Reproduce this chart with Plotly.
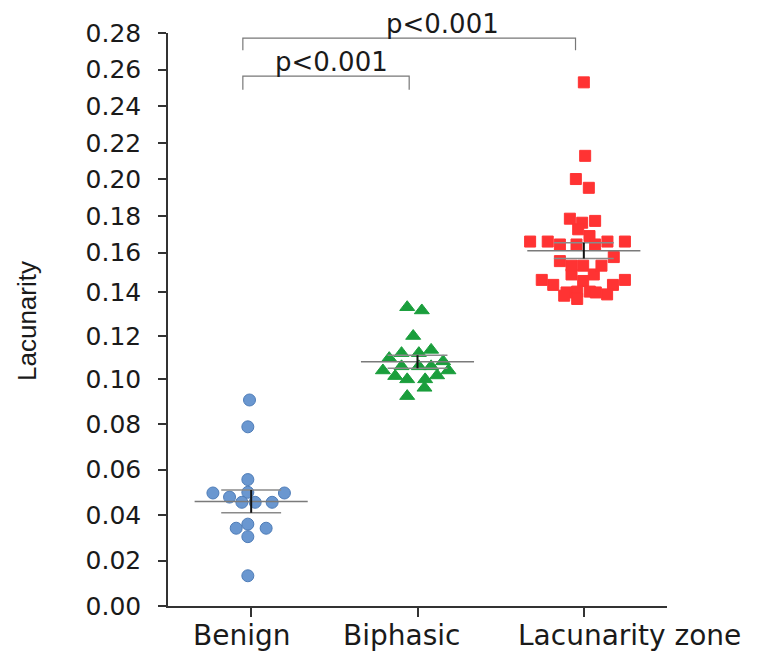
import plotly.graph_objects as go

# ---------------- data ----------------
categories = ["Benign", "Biphasic", "Lacunarity zone"]

benign_values = [0.0906, 0.0788, 0.0556, 0.0497, 0.0500, 0.0497, 0.0479, 0.0456,
                 0.0456, 0.0456, 0.0360, 0.0342, 0.0342, 0.0305, 0.0133]
benign_jitter = [-0.01, -0.02, -0.02, -0.23, -0.02, 0.20, -0.13, -0.056,
                 0.024, 0.126, -0.02, -0.09, 0.09, -0.02, -0.02]

biphasic_values = [0.1332, 0.1317, 0.1199, 0.1135, 0.1097, 0.1120, 0.1120, 0.1082,
                   0.1040, 0.1059, 0.1059, 0.1059, 0.1040, 0.1014, 0.1017, 0.0999,
                   0.0999, 0.0960, 0.0923]
biphasic_jitter = [-0.062, 0.026, -0.026, 0.082, -0.17, -0.096, 0.008, 0.154,
                   -0.208, -0.096, 0.008, 0.082, 0.186, -0.134, 0.118, -0.062,
                   0.046, 0.042, -0.062]

lacunarity_values = [0.2531, 0.2129, 0.2002, 0.1954, 0.1785, 0.1763, 0.1773, 0.1727,
                     0.1690, 0.1660, 0.1660, 0.1644, 0.1644, 0.1644, 0.1660, 0.1660,
                     0.1575, 0.1553, 0.1528, 0.1528, 0.1528, 0.1483, 0.1483, 0.1458,
                     0.1435, 0.1453, 0.1435, 0.1458, 0.1400, 0.1404, 0.1404, 0.1400,
                     0.1391, 0.1370, 0.1385]
lacunarity_jitter = [0.0, 0.008, -0.048, 0.03, -0.084, -0.01, 0.068, -0.034,
                     0.034, -0.323, -0.217, -0.144, -0.044, 0.068, 0.142, 0.247,
                     0.18, -0.144, -0.074, -0.004, 0.106, -0.074, 0.06, -0.253,
                     -0.184, -0.004, 0.175, 0.247, -0.104, -0.04, 0.036, 0.072,
                     0.14, -0.04, -0.118]

group_means = [0.046, 0.108, 0.161]
group_sems = [0.005, 0.003, 0.0043]

y_tick_values = [0.00, 0.02, 0.04, 0.06, 0.08, 0.10, 0.12, 0.14,
                 0.16, 0.18, 0.20, 0.22, 0.24, 0.26, 0.28]

comparisons = [("Benign", "Biphasic"), ("Benign", "Lacunarity zone")]
p_labels = ["p<0.001", "p<0.001"]

# ---------------- styling ----------------
groups = [
    dict(values=benign_values, jitter=benign_jitter, symbol="circle", size=12,
         color="#6A97D0", line="#4F7DB8"),
    dict(values=biphasic_values, jitter=biphasic_jitter, symbol="triangle-up", size=13,
         color="#1A9E3C", line="#1A9E3C"),
    dict(values=lacunarity_values, jitter=lacunarity_jitter, symbol="square", size=11,
         color="#FF3333", line="#FF3333"),
]

# the reference axis is drawn with uneven spacing; use three stacked axis segments
segments = [(0.0, 0.095), (0.095, 0.15), (0.15, 0.2801)]
domains = [[0.0, 0.377], [0.377, 0.585], [0.585, 1.0]]
yrefs = ["y", "y2", "y3"]


def seg_of(v):
    for i, (lo, hi) in enumerate(segments):
        if v < hi:
            return i
    return len(segments) - 1


fig = go.Figure()

for gi, g in enumerate(groups):
    pos = gi + 1
    for si in range(len(segments)):
        xs = [pos + j for v, j in zip(g["values"], g["jitter"]) if seg_of(v) == si]
        ys = [v for v in g["values"] if seg_of(v) == si]
        if not ys:
            continue
        fig.add_trace(go.Scatter(
            x=xs, y=ys, mode="markers", yaxis=yrefs[si], xaxis="x",
            cliponaxis=False, showlegend=False,
            marker=dict(symbol=g["symbol"], size=g["size"], color=g["color"],
                        line=dict(color=g["line"], width=1)),
        ))

# mean and SEM lines
for gi, (m, s) in enumerate(zip(group_means, group_sems)):
    pos = gi + 1
    ya = yrefs[seg_of(m)]
    fig.add_trace(go.Scatter(
        x=[pos - 0.34, pos + 0.34], y=[m, m], mode="lines", yaxis=ya,
        line=dict(color="#7a7a7a", width=1.5), cliponaxis=False, showlegend=False))
    for yy in (m - s, m + s):
        fig.add_trace(go.Scatter(
            x=[pos - 0.18, pos + 0.18], y=[yy, yy], mode="lines", yaxis=ya,
            line=dict(color="#8a8a8a", width=1.5), cliponaxis=False, showlegend=False))
    fig.add_trace(go.Scatter(
        x=[pos, pos], y=[m - s, m + s], mode="lines", yaxis=ya,
        line=dict(color="#111111", width=2), cliponaxis=False, showlegend=False))

# significance brackets
bracket_levels = [(0.2565, 0.249), (0.2773, 0.2707)]
label_x = [1.48, 2.15]
for (a, b), lab, (ytop, yleg), lx in zip(comparisons, p_labels, bracket_levels, label_x):
    xa = categories.index(a) + 1 - 0.05
    xb = categories.index(b) + 1 - 0.05
    fig.add_trace(go.Scatter(
        x=[xa, xa, xb, xb], y=[yleg, ytop, ytop, yleg], mode="lines", yaxis="y3",
        line=dict(color="#777777", width=1.2), cliponaxis=False, showlegend=False))
    fig.add_annotation(x=lx, y=ytop, xref="x", yref="y3", text=lab, showarrow=False,
                       yanchor="bottom", xanchor="center", yshift=-3,
                       font=dict(family="DejaVu Sans", size=26, color="#1a1a1a"))

# y-axis title
fig.add_annotation(x=-0.283, y=0.497, xref="paper", yref="paper", text="Lacunarity",
                   textangle=-90, showarrow=False, xanchor="center", yanchor="middle",
                   font=dict(family="Liberation Sans", size=26, color="#1a1a1a"))

# category labels (placed as in the reference, which sets the last one off-centre)
label_shifts = [-10, -16, 46]
for i, (cat, sh) in enumerate(zip(categories, label_shifts)):
    fig.add_annotation(x=i + 1, y=0, xref="x", yref="paper", text=cat, showarrow=False,
                       xanchor="center", yanchor="top", xshift=sh, yshift=-11,
                       font=dict(family="DejaVu Sans", size=28, color="#1a1a1a"))

axis_common = dict(showline=True, linecolor="#333333", linewidth=1.5,
                   ticks="outside", ticklen=8, tickwidth=1.5, tickcolor="#333333",
                   showgrid=False, zeroline=False, anchor="x", tickformat=".2f",
                   ticklabelstandoff=12, automargin=False,
                   tickfont=dict(family="DejaVu Sans", size=25, color="#1a1a1a"))

layout_axes = {}
for si, ((lo, hi), dom) in enumerate(zip(segments, domains)):
    tv = [t for t in y_tick_values if lo - 1e-9 <= t <= hi + 1e-9]
    if si > 0:
        tv = [t for t in tv if t > lo + 1e-9]
    key = "yaxis" if si == 0 else f"yaxis{si + 1}"
    layout_axes[key] = dict(axis_common, range=[lo, hi], domain=dom, tickvals=tv)

fig.update_layout(
    width=760, height=643,
    margin=dict(l=160, r=101, t=25, b=45),
    paper_bgcolor="white", plot_bgcolor="white",
    xaxis=dict(range=[0.5, 3.5], tickvals=[1, 2, 3], ticktext=categories,
               showticklabels=False, automargin=False,
               showline=True, linecolor="#333333", linewidth=1.5,
               ticks="outside", ticklen=9, tickwidth=1.5, tickcolor="#333333",
               showgrid=False, zeroline=False, anchor="y"),
    **layout_axes,
)

fig.write_html("out.html")
